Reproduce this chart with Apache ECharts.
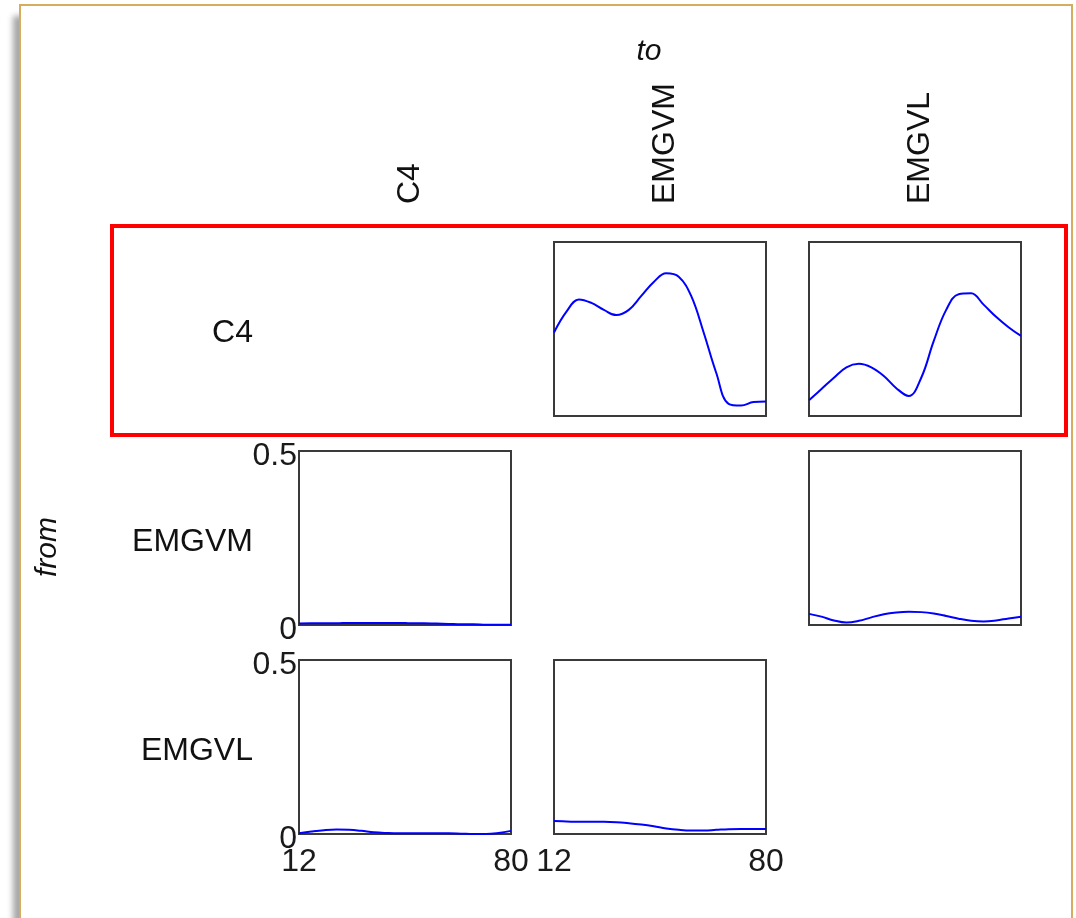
<!DOCTYPE html>
<html>
<head>
<meta charset="utf-8">
<script src="https://cdn.jsdelivr.net/npm/echarts@6/dist/echarts.min.js"></script>
<style>
    html, body { margin: 0; padding: 0; background: #fff; overflow: hidden; }
    #frame {
        position: absolute; left: 19px; top: 4px; width: 1050px; height: 940px;
        border: 2px solid #d6ad5c; background: #fff;
        box-shadow: -6px 12px 6px rgba(0, 0, 0, 0.35);
    }
    #main { position: absolute; left: 0; top: 0; width: 1076px; height: 918px; }
</style>
</head>
<body>
<div id="frame"></div>
<div id="main"></div>
<script>
// frequency axis (Hz)
var freqs = [12, 16, 20, 24, 28, 32, 36, 40, 44, 48, 52, 56, 60, 64, 68, 72, 76, 80];
var xTicks = [12, 80];
var names = ['C4', 'EMGVM', 'EMGVL'];

// from -> to
var c4ToEmgvm = [0.48, 0.60, 0.67, 0.65, 0.61, 0.58, 0.61, 0.69, 0.77, 0.82, 0.80, 0.69, 0.48, 0.25, 0.07, 0.06, 0.08, 0.083];
var c4ToEmgvl = [0.09, 0.155, 0.22, 0.28, 0.30, 0.28, 0.23, 0.16, 0.115, 0.22, 0.43, 0.61, 0.70, 0.705, 0.64, 0.57, 0.51, 0.46];
var emgvmToC4 = [0.004, 0.005, 0.005, 0.005, 0.006, 0.006, 0.006, 0.006, 0.006, 0.005, 0.005, 0.004, 0.003, 0.002, 0.002, 0.001, 0.001, 0.001];
var emgvmToEmgvl = [0.032, 0.024, 0.013, 0.007, 0.012, 0.022, 0.031, 0.036, 0.038, 0.037, 0.033, 0.026, 0.018, 0.012, 0.010, 0.013, 0.019, 0.024];
var emgvlToC4 = [0.002, 0.007, 0.011, 0.013, 0.012, 0.009, 0.005, 0.003, 0.002, 0.002, 0.002, 0.002, 0.002, 0.001, 0.000, 0.000, 0.003, 0.009];
var emgvlToEmgvm = [0.037, 0.036, 0.035, 0.035, 0.035, 0.034, 0.031, 0.027, 0.022, 0.016, 0.012, 0.010, 0.010, 0.012, 0.014, 0.0145, 0.0145, 0.0145];

var panels = [
    {row: 0, col: 1, data: c4ToEmgvm},
    {row: 0, col: 2, data: c4ToEmgvl},
    {row: 1, col: 0, data: emgvmToC4},
    {row: 1, col: 2, data: emgvmToEmgvl},
    {row: 2, col: 0, data: emgvlToC4},
    {row: 2, col: 1, data: emgvlToEmgvm}
];

var colX = [299, 554, 809];
var rowY = [242, 451, 660];
var W = 212, H = 174;
var font = "'Liberation Sans', Arial, sans-serif";

var grid = [], xAxis = [], yAxis = [], series = [];
panels.forEach(function (p, i) {
    grid.push({
        left: colX[p.col], top: rowY[p.row], width: W, height: H,
        show: true, borderColor: '#3a3a3a', borderWidth: 2, backgroundColor: '#fff'
    });
    var showX = p.row === 2;
    var showY = p.col === 0;
    xAxis.push({
        type: 'value', gridIndex: i, min: 12, max: 80,
        axisLine: {show: false}, axisTick: {show: false}, splitLine: {show: false},
        axisLabel: {
            show: showX, customValues: xTicks, margin: 12,
            fontSize: 32, color: '#1a1a1a', fontFamily: font
        }
    });
    yAxis.push({
        type: 'value', gridIndex: i, min: 0, max: p.row === 0 ? 1 : 0.5,
        interval: p.row === 0 ? 1 : 0.5,
        axisLine: {show: false}, axisTick: {show: false}, splitLine: {show: false},
        axisLabel: {
            show: showY, margin: 2,
            formatter: '{v|{value}}',
            rich: {v: {fontSize: 32, color: '#1a1a1a', fontFamily: font, padding: [10, 0, 0, 0]}}
        }
    });
    series.push({
        type: 'line', xAxisIndex: i, yAxisIndex: i, smooth: 0.4, symbol: 'none',
        lineStyle: {color: '#0000ff', width: 2},
        data: freqs.map(function (f, k) { return [f, p.data[k]]; })
    });
});

var graphic = [];
// column headers and row labels
names.forEach(function (n, c) {
    graphic.push({
        type: 'text', x: colX[c] + W / 2 + 5, y: 204, rotation: Math.PI / 2,
        style: {text: n, font: '32px ' + font, fill: '#111', align: 'left', verticalAlign: 'middle'}
    });
    graphic.push({
        type: 'text', x: 253, y: rowY[c] + H / 2 + 4,
        style: {text: n, font: '32px ' + font, fill: '#111', align: 'right', verticalAlign: 'middle'}
    });
});
graphic.push({
    type: 'text', x: 649, y: 52,
    style: {text: 'to', font: 'italic 30px ' + font, fill: '#111', align: 'center', verticalAlign: 'middle'}
});
graphic.push({
    type: 'text', x: 48, y: 547, rotation: Math.PI / 2,
    style: {text: 'from', font: 'italic 30px ' + font, fill: '#111', align: 'center', verticalAlign: 'middle'}
});
// highlighted row
graphic.push({
    type: 'rect', shape: {x: 112, y: 226, width: 954, height: 209},
    style: {fill: 'none', stroke: '#ff0000', lineWidth: 4}, z: 100
});

var chart = echarts.init(document.getElementById('main'));
chart.setOption({
    animation: false,
    backgroundColor: 'transparent',
    grid: grid,
    xAxis: xAxis,
    yAxis: yAxis,
    series: series,
    graphic: graphic
});
</script>
</body>
</html>
